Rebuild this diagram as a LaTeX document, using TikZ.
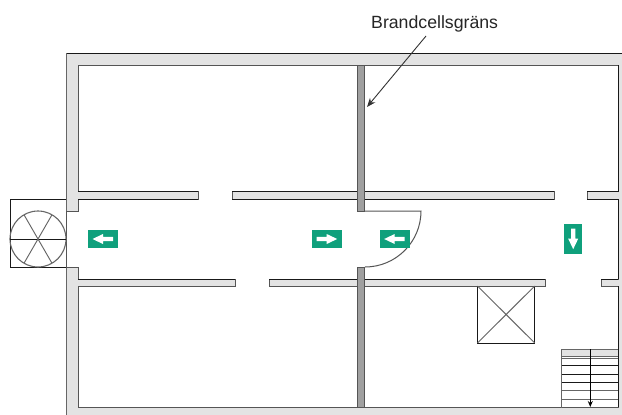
\documentclass[tikz,border=0pt]{standalone}
\usepackage{fontspec}
\setmainfont{Liberation Sans}
\usetikzlibrary{arrows.meta}
\definecolor{wallgray}{HTML}{E3E3E3}
\definecolor{firegray}{HTML}{A0A0A0}
\definecolor{edgegray}{HTML}{555555}
\definecolor{signgreen}{HTML}{0FA07C}
\tikzset{
  wall/.style={fill=wallgray,draw=edgegray,line width=1pt},
  room/.style={fill=white,draw=edgegray,line width=1pt},
  firewall/.style={fill=firegray,draw=edgegray,line width=1pt},
  blackline/.style={draw=black!90,line width=0.95pt},
  thin gray/.style={draw=black!60,line width=0.95pt},
  signbox/.style={fill=signgreen,draw=none},
  signarrow/.style={fill=white,draw=none},
  pics/exitarrow/.style={code={
    \path[signarrow] (-10.5,0)--(0,-5)--(0,-2.2)--(10,-2.2)--(10,2.2)--(0,2.2)--(0,5)--cycle;
  }}
}
\begin{document}
\begin{tikzpicture}[x=1pt,y=-1pt]
\useasboundingbox (0,0) rectangle (622,415);
% outer wall mass
\path[wall,draw=none] (66,53) rectangle (622,415);
\draw[blackline] (622,53)--(66,53);
\draw[thin gray] (66,53)--(66,211);
\draw[thin gray] (66,267)--(66,415);
% interior
\path[room] (78,65)--(618,65)--(618,191.5)--(587,191.5)--(587,199)--(618,199)--(618,279)--(601,279)--(601,286)--(618,286)--(618,407.5)--(78,407.5)--(78,286)--(235,286)--(235,279)--(78,279)--(78,267)--(66,267)--(66,211)--(78,211)--(78,199)--(198,199)--(198,191.5)--(78,191.5)--cycle;
% open left end of the corridor
\fill[white] (66.6,212) rectangle (80,266);
% corridor wall islands
\path[wall] (232,191.5) rectangle (554,199);
\path[wall] (269,279) rectangle (545,286);
% dark upper edges
\draw[blackline] (78,191.5)--(198,191.5) (232,191.5)--(554,191.5) (587,191.5)--(618,191.5);
\draw[blackline] (78,199)--(198,199) (232,199)--(554,199) (587,199)--(618,199);
\draw[blackline] (78,279)--(235,279) (269,279)--(545,279) (601,279)--(618,279);
\draw[blackline] (618,65)--(618,191.5) (618,199)--(618,279) (618,286)--(618,407);
% fire cell boundary
\path[firewall] (357,65) rectangle (364.5,211);
\path[firewall] (357,267) rectangle (364.5,407.5);
% door
\draw[edgegray,line width=1pt] (364.5,211)--(421,211) arc[start angle=0,end angle=90,radius=56];
% stair tower
\draw[blackline] (66,199)--(10,199)--(10,267)--(66,267);
\coordinate (hub) at (38,239);
\draw[thin gray,line width=1.1pt] (hub) circle[radius=28];
\draw[blackline] (10,239)--(66,239);
\draw[thin gray] (hub)--++(60:28) (hub)--++(120:28) (hub)--++(240:28) (hub)--++(300:28);
% signs
\path[signbox] (88,230) rectangle (118,248);
\pic at (103,239) {exitarrow};
\path[signbox] (312,230) rectangle (341.5,248);
\pic[xscale=-1] at (326.7,239) {exitarrow};
\path[signbox] (380,230) rectangle (409.5,248);
\pic at (394.7,239) {exitarrow};
\path[signbox] (564.3,224) rectangle (582,253.5);
\pic[rotate=90] at (573.2,238.7) {exitarrow};
% lift shaft
\draw[blackline] (477.5,286)--(477.5,343)--(534.7,343)--(534.7,286);
\draw[thin gray] (477.5,286)--(534.7,343) (534.7,286)--(477.5,343);
% stairs
\fill[wallgray] (561.5,349) rectangle (618,356.5);
\draw[thin gray] (561.5,349)--(618,349) (561.5,356.5)--(618,356.5) (561.5,358)--(618,358)
  (561.5,399)--(618,399) (561.5,390.7)--(618,390.7);
\draw[blackline] (561.5,365.7)--(618,365.7) (561.5,374)--(618,374) (561.5,382.3)--(618,382.3);
\draw[thin gray] (561.5,349)--(561.5,407.5);
\coordinate (stairtop) at (590.3,349);
\coordinate (stairend) at (590.3,407);
\draw[black,line width=0.9pt,-{Stealth[length=6pt,width=5pt]}] (stairtop)--(stairend);
% label
\node[anchor=base west,inner sep=0pt,font=\fontsize{17.7}{20}\selectfont,text=black!85] (label) at (371,28) {Brandcellsgräns};
\coordinate (labelfoot) at (426,36);
\coordinate (wallpoint) at (367,107);
\draw[black!80,line width=0.9pt,-{Stealth[length=9pt,width=7pt]}] (labelfoot)--(wallpoint);
\end{tikzpicture}
\end{document}
